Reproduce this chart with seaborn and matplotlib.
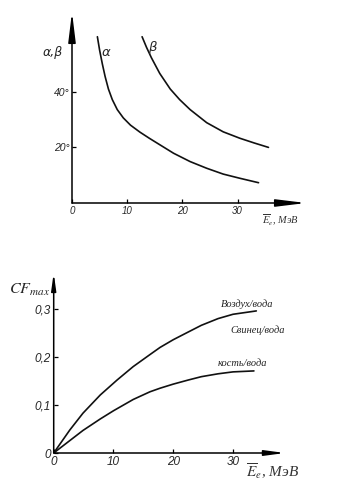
import matplotlib
matplotlib.use("Agg")
import matplotlib.pyplot as plt
import seaborn as sns

sns.set_theme(style="white")
plt.rcParams["font.family"] = ["Liberation Sans", "DejaVu Sans"]
plt.rcParams["mathtext.fontset"] = "stix"

# ---- top chart data (angles vs energy) ----
alpha_x = [4.6, 5.0, 5.5, 6.0, 6.6, 7.3, 8.2, 9.3, 10.6, 12.3, 14.0, 15.3,
           18.4, 21.4, 24.4, 27.4, 30.4, 33.8]
alpha_y = [59.8, 55.0, 50.0, 45.5, 41.0, 37.2, 33.6, 30.6, 28.0, 25.5, 23.3, 21.7,
           17.9, 14.9, 12.5, 10.4, 8.9, 7.3]
beta_x = [12.7, 13.5, 14.4, 15.9, 17.8, 19.5, 21.4, 24.4, 27.4, 30.4, 33.0, 35.6]
beta_y = [59.8, 56.0, 52.2, 46.6, 41.0, 37.2, 33.6, 28.9, 25.6, 23.3, 21.6, 20.0]
top_xticks = [0, 10, 20, 30]
top_yticks = [20, 40]
top_ytick_labels = ["20°", "40°"]

# ---- bottom chart data (CFmax vs energy) ----
air_x = [0, 2.7, 4.9, 7.8, 10.6, 13.3, 16.1, 17.8, 20.0, 22.5, 24.7, 27.5, 30.0, 33.9]
air_y = [0, 0.048, 0.083, 0.121, 0.152, 0.180, 0.205, 0.220, 0.236, 0.252, 0.266,
         0.280, 0.289, 0.296]
bone_x = [0, 2.5, 4.9, 7.8, 10.0, 13.3, 16.1, 17.8, 20.0, 22.5, 24.7, 27.5, 30.0, 33.5]
bone_y = [0, 0.024, 0.047, 0.071, 0.088, 0.1115, 0.1275, 0.135, 0.1435, 0.152, 0.159,
          0.165, 0.169, 0.171]
bot_xticks = [0, 10, 20, 30]
bot_yticks = [0, 0.1, 0.2, 0.3]
bot_ytick_labels = ["0", "0,1", "0,2", "0,3"]

fig = plt.figure(figsize=(3.37, 4.90), dpi=100)
fig.patch.set_facecolor("white")

ax1 = fig.add_axes([72 / 337, 1 - 203 / 490, 234 / 337, 191 / 490])
ax2 = fig.add_axes([53.7 / 337, 1 - 453 / 490, 231.3 / 337, 180 / 490])

for ax in (ax1, ax2):
    ax.set_facecolor("white")
    for s in ax.spines.values():
        s.set_visible(False)
    ax.grid(False)

lw = 1.2
sns.lineplot(x=alpha_x, y=alpha_y, ax=ax1, color="#111111", linewidth=lw, sort=False)
sns.lineplot(x=beta_x, y=beta_y, ax=ax1, color="#111111", linewidth=lw, sort=False)
ax1.set_xlim(0, 42.4)
ax1.set_ylim(0, 68.7)

sns.lineplot(x=air_x, y=air_y, ax=ax2, color="#111111", linewidth=lw, sort=False)
sns.lineplot(x=bone_x, y=bone_y, ax=ax2, color="#111111", linewidth=lw, sort=False)
ax2.set_xlim(0, 38.7)
ax2.set_ylim(0, 0.375)


def arrows(ax, xlen, ylen, xw, yw):
    ax.annotate("", xy=(1, 0), xytext=(0, 0), xycoords="axes fraction",
                arrowprops=dict(arrowstyle="-|>,head_length=%f,head_width=%f" % (xlen, xw),
                                color="black", lw=1.1, shrinkA=0, shrinkB=0,
                                mutation_scale=10))
    ax.annotate("", xy=(0, 1), xytext=(0, 0), xycoords="axes fraction",
                arrowprops=dict(arrowstyle="-|>,head_length=%f,head_width=%f" % (ylen, yw),
                                color="black", lw=1.1, shrinkA=0, shrinkB=0,
                                mutation_scale=10))


arrows(ax1, 1.8, 1.8, 0.22, 0.22)
arrows(ax2, 1.2, 1.0, 0.16, 0.14)

tickfont = dict(family="Liberation Sans", style="italic")
ax1.set_xticks(top_xticks)
ax1.set_xticklabels([str(t) for t in top_xticks], fontsize=7, **tickfont)
ax1.set_yticks(top_yticks)
ax1.set_yticklabels(top_ytick_labels, fontsize=7.5, **tickfont)
ax1.tick_params(axis="both", direction="in", length=3, width=0.9, color="black",
                pad=2, left=True, bottom=True)

ax2.set_xticks(bot_xticks)
ax2.set_xticklabels([str(t) for t in bot_xticks], fontsize=8.5, **tickfont)
ax2.set_yticks(bot_yticks)
ax2.set_yticklabels(bot_ytick_labels, fontsize=8.5, **tickfont)
ax2.tick_params(axis="both", direction="in", length=3, width=0.9, color="black",
                pad=2, left=True, bottom=True)

# ---- top annotations ----
ax1.text(-3.4, 54.3, "α,β", fontsize=9, style="italic", ha="center", va="center",
         family="DejaVu Sans", clip_on=False)
ax1.text(6.2, 54.3, "α", fontsize=9.5, style="italic", ha="center", va="center",
         family="DejaVu Sans")
ax1.text(14.6, 55.8, "β", fontsize=9.5, style="italic", ha="center", va="center",
         family="DejaVu Sans")
ax1.text(37.8, -6.3, r"$\overline{E}_{e}$, МэВ", fontsize=7.5, ha="center", va="center",
         family="Liberation Serif", style="italic", color="#333333", clip_on=False)

# ---- bottom annotations ----
ax2.text(-4.0, 0.34, r"$CF_{max}$", fontsize=11.5, ha="center", va="center", clip_on=False)
ax2.text(32.3, 0.310, "Воздух/вода", fontsize=7.5, ha="center", va="center",
         family="Liberation Serif", style="italic", color="#222222")
ax2.text(34.2, 0.256, "Свинец/вода", fontsize=7.5, ha="center", va="center",
         family="Liberation Serif", style="italic", color="#222222")
ax2.text(31.5, 0.1875, "кость/вода", fontsize=7.5, ha="center", va="center",
         family="Liberation Serif", style="italic", color="#222222")
ax2.text(36.6, -0.037, r"$\overline{E}_{e}$, МэВ", fontsize=11, ha="center", va="center",
         family="Liberation Serif", style="italic", color="#333333", clip_on=False)

fig.savefig("out.png", dpi=100, facecolor="white")
